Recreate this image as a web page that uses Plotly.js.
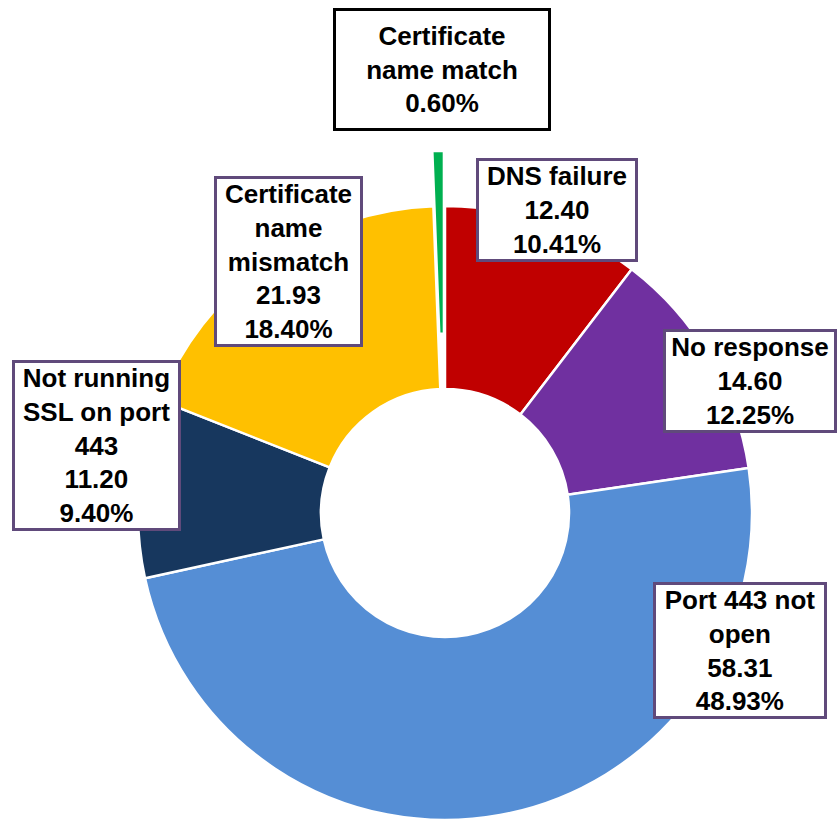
<!DOCTYPE html>
<html>
<head>
<meta charset="utf-8">
<script src="https://cdn.plot.ly/plotly-3.0.1.min.js"></script>
<style>
html,body{margin:0;padding:0;overflow:hidden;background:#fff;width:838px;height:824px;}
#chart{width:838px;height:1026px;}
</style>
</head>
<body>
<div id="chart"></div>
<script>
// ---- data ----
const labels = ["DNS failure", "No response", "Port 443 not open", "Not running SSL on port 443", "Certificate name mismatch", "Certificate name match"];
const boxLabels = ["DNS failure", "No response", "Port 443 not<br>open", "Not running<br>SSL on port<br>443", "Certificate<br>name<br>mismatch", "Certificate<br>name match"];
const values = [12.40, 14.60, 58.31, 11.20, 21.93, 0.72];
const showValue = [true, true, true, true, true, false];
const colors = ["#C00000", "#7030A0", "#558ED5", "#17375E", "#FFC000", "#00B050"];
const pulls = [0, 0, 0, 0, 0, 0.18];

// ---- label box layout (pixel centres / widths in the 838-wide frame) ----
const W = 838, H = 1026;
const boxPos = [
  {x: 557, y: 209.5, w: 162, border: "#604A7B"},
  {x: 750, y: 380.5, w: 174, border: "#604A7B"},
  {x: 740, y: 650.5, w: 174, border: "#604A7B"},
  {x: 96.5, y: 446, w: 169, border: "#604A7B"},
  {x: 288.5, y: 261.5, w: 149, border: "#604A7B"},
  {x: 442, y: 69.5, w: 218, h: 123, border: "#000000"}
];

const total = values.reduce((a, b) => a + b, 0);
const annotations = labels.map((lab, i) => {
  const pct = (values[i] / total * 100).toFixed(2) + "%";
  const txt = boxLabels[i] + "<br>" + (showValue[i] ? values[i].toFixed(2) + "<br>" : "") + pct;
  const p = boxPos[i];
  const a = {
    text: txt, xref: "paper", yref: "paper",
    x: p.x / W, y: 1 - p.y / H, xanchor: "center", yanchor: "middle",
    showarrow: false, align: "center",
    font: {family: "Arial, 'Liberation Sans', sans-serif", size: 26, color: "#000", weight: "bold"},
    bgcolor: "#ffffff", bordercolor: p.border, borderwidth: 3, borderpad: 0,
    width: p.w - 6
  };
  if (p.h) a.height = p.h - 6;
  return a;
});

const cx = 445, R = 307;
const maxPull = Math.max(...pulls);
const half = R * (1 + maxPull);

const trace = {
  type: "pie",
  labels: labels,
  values: values,
  marker: {colors: colors, line: {color: "#ffffff", width: 2.5}},
  pull: pulls,
  hole: 0.404,
  sort: false,
  direction: "clockwise",
  rotation: 0,
  textinfo: "none",
  hoverinfo: "label+value+percent",
  domain: {x: [(cx - half) / W, (cx + half) / W], y: [0, 1]}
};

const layout = {
  width: W, height: H,
  margin: {l: 0, r: 0, t: 0, b: 0},
  paper_bgcolor: "#ffffff",
  showlegend: false,
  annotations: annotations
};

Plotly.newPlot("chart", [trace], layout, {displayModeBar: false, staticPlot: true});
</script>
</body>
</html>
